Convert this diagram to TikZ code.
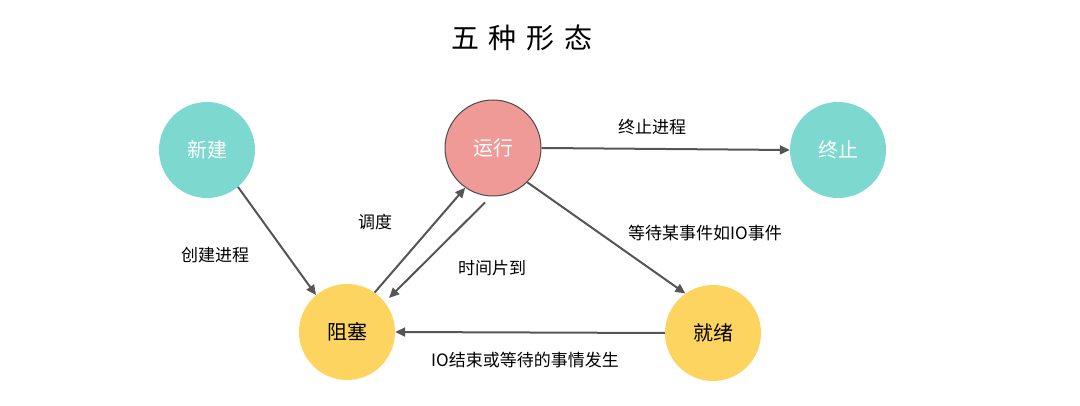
\documentclass[tikz,border=0pt]{standalone}
\usepackage{fontspec}
\newfontfamily\cjk{Noto Sans CJK SC}
\usetikzlibrary{arrows.meta}
\definecolor{teal1}{HTML}{7DD9CF}
\definecolor{pink1}{HTML}{EF9A96}
\definecolor{yel1}{HTML}{FCD45F}
\definecolor{arr}{HTML}{555555}
\begin{document}
\begin{tikzpicture}[x=1pt,y=-1pt,
  st/.style={circle,minimum size=96pt,inner sep=0pt,font=\cjk\fontsize{20}{24}\selectfont},
  ar/.style={draw=arr,line width=2pt,-{Triangle[length=10pt,width=9pt]}},
  lb/.style={font=\cjk\fontsize{17}{20}\selectfont}]
\useasboundingbox (0,0) rectangle (1080,406);
\node[font=\cjk\fontsize{28}{32}\selectfont] (title) at (522,38) {五\hspace{10pt}种\hspace{10pt}形\hspace{10pt}态};
\node[st,fill=teal1,text=white] (new) at (207,150) {新建};
\node[st,fill=pink1,draw=black!70,line width=1pt,text=white] (run) at (493,148) {运行};
\node[st,fill=teal1,text=white] (end) at (838,150) {终止};
\node[st,fill=yel1] (blk) at (347,332) {阻塞};
\node[st,fill=yel1] (rdy) at (713,333) {就绪};
\draw[ar] (new.-50) -- (blk.130);
\draw[ar] (blk.55) -- (run.-125);
\draw[ar] ([xshift=-8pt]run.-90) ++(0,6) coordinate (c1) -- ([xshift=8pt]blk.45);
\draw[ar] (run.0) -- (end.180);
\draw[ar] (run.-45) -- (rdy.125);
\draw[ar] (rdy.180) -- (blk.0);
\node[lb] (l1) at (215,255) {创建进程};
\node[lb] (l2) at (375,222) {调度};
\node[lb] (l3) at (492,268) {时间片到};
\node[lb] (l4) at (652,127) {终止进程};
\node[lb] (l5) at (705,233) {等待某事件如IO事件};
\node[lb] (l6) at (525,360) {IO结束或等待的事情发生};
\end{tikzpicture}
\end{document}
